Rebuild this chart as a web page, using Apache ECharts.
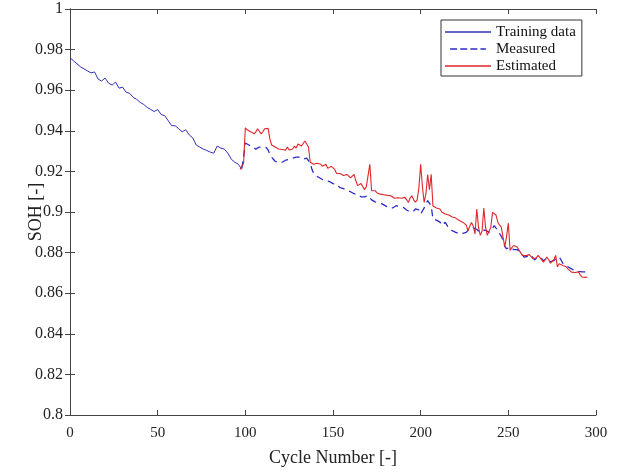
<!DOCTYPE html>
<html>
<head>
<meta charset="utf-8">
<script src="https://cdn.jsdelivr.net/npm/echarts@6/dist/echarts.min.js"></script>
<style>
  html, body { margin: 0; padding: 0; background: #fff; }
  #chart { width: 618px; height: 472px; }
</style>
</head>
<body>
<div id="chart"></div>
<script>
// [cycle, SOH]
const trainingData = [
  [0,0.976],[2,0.9745],[4,0.973],[6,0.9715],[8,0.9705],[10,0.9695],[12,0.9685],[14,0.969],
  [16,0.9655],[18,0.9645],[20,0.966],[22,0.9635],[24,0.9625],[26,0.964],[28,0.961],[30,0.9615],
  [32,0.959],[34,0.9585],[36,0.9565],[38,0.9555],[40,0.954],[42,0.953],[44,0.9515],[46,0.9505],
  [48,0.9495],[50,0.9505],[52,0.948],[54,0.9475],[56,0.945],[58,0.9425],[60,0.9425],[62,0.941],
  [64,0.9395],[66,0.9405],[68,0.938],[70,0.9365],[72,0.933],[74,0.932],[76,0.931],[78,0.9303],
  [80,0.9295],[82,0.929],[84,0.9325],[86,0.9315],[88,0.931],[90,0.929],[92,0.926],[94,0.9245],
  [96,0.9235],[98,0.921]
];

const measuredData = [
  [98,0.9215],[99,0.927],[100,0.934],[101,0.9335],[102,0.933],[103,0.9325],[104,0.932],[105,0.9315],
  [106,0.931],[107,0.9315],[108,0.932],[109,0.9325],[110,0.932],[111,0.9318],[112,0.9317],[113,0.9305],
  [114,0.9284],[115,0.927],[116,0.926],[117,0.925],[118,0.9245],[119,0.9243],[120,0.9243],[121,0.9245],
  [122,0.925],[123,0.9255],[124,0.926],[125,0.926],[126,0.9262],[127,0.9265],[128,0.9267],[129,0.927],
  [130,0.9276],[131,0.927],[132,0.9265],[133,0.926],[134,0.9262],[135,0.9265],[136,0.9267],[137,0.924],
  [138,0.921],[139,0.919],[140,0.918],[141,0.9175],[142,0.917],[143,0.9165],[144,0.916],[145,0.9158],
  [146,0.9155],[147,0.9153],[148,0.915],[149,0.9145],[150,0.914],[151,0.9138],[152,0.9137],[153,0.913],
  [154,0.912],[155,0.9118],[156,0.9115],[157,0.9112],[158,0.9108],[159,0.9105],[160,0.91],[161,0.9095],
  [162,0.909],[163,0.9088],[164,0.9085],[165,0.908],[166,0.9075],[167,0.9071],[168,0.9075],[169,0.9078],
  [170,0.908],[171,0.907],[172,0.906],[173,0.9055],[174,0.905],[175,0.9047],[176,0.9045],[177,0.9042],
  [178,0.904],[179,0.9039],[180,0.903],[181,0.9025],[182,0.902],[183,0.9015],[184,0.902],[185,0.9028],
  [186,0.9031],[187,0.903],[188,0.9027],[189,0.9025],[190,0.9023],[191,0.902],[192,0.901],[193,0.9005],
  [194,0.9],[195,0.8998],[196,0.9005],[197,0.9015],[198,0.9023],[199,0.901],[200,0.899],[201,0.9005],
  [202,0.902],[203,0.904],[204,0.9056],[205,0.905],[206,0.9031],[207,0.8965],[208,0.8958],[209,0.896],
  [210,0.8966],[211,0.895],[212,0.8934],[213,0.894],[214,0.8949],[215,0.8935],[216,0.892],[217,0.8912],
  [218,0.8908],[219,0.8905],[220,0.89],[221,0.8895],[222,0.8892],[223,0.8892],[224,0.8895],[225,0.8898],
  [226,0.89],[227,0.8902],[228,0.8917],[229,0.892],[230,0.8922],[231,0.8925],[232,0.8915],[233,0.8905],
  [234,0.89],[235,0.891],[236,0.8917],[237,0.891],[238,0.8905],[239,0.89],[240,0.8905],[241,0.892],
  [242,0.8933],[243,0.892],[244,0.8908],[245,0.8905],[246,0.888],[247,0.886],[248,0.883],[249,0.8819],
  [250,0.8825],[251,0.8827],[252,0.882],[253,0.8815],[254,0.881],[255,0.8815],[256,0.882],[257,0.88],
  [258,0.879],[259,0.8778],[260,0.878],[261,0.8782],[262,0.879],[263,0.8788],[264,0.8775],[265,0.8765],
  [266,0.877],[267,0.878],[268,0.8778],[269,0.877],[270,0.876],[271,0.8765],[272,0.8772],[273,0.877],
  [274,0.8755],[275,0.875],[276,0.876],[277,0.877],[278,0.8775],[279,0.8778],[280,0.8765],[281,0.8748],
  [282,0.8745],[283,0.874],[284,0.873],[285,0.8725],[286,0.872],[287,0.8715],[288,0.8712],[289,0.871],
  [290,0.8708],[291,0.8706],[292,0.8705],[293,0.8704],[294,0.8705],[295,0.8705]
];

const estimatedData = [
  [97,0.921],[98,0.9205],[99,0.924],[100,0.9415],[101,0.9405],[102,0.94],[103,0.9395],[104,0.939],
  [105,0.9385],[106,0.9395],[107,0.941],[108,0.9405],[109,0.9385],[110,0.9395],[111,0.941],[112,0.9405],
  [113,0.9412],[114,0.936],[115,0.933],[116,0.9325],[117,0.932],[118,0.9315],[119,0.931],[120,0.9305],
  [121,0.9308],[122,0.93],[123,0.9305],[124,0.932],[125,0.9305],[126,0.93],[127,0.931],[128,0.9325],
  [129,0.9315],[130,0.9335],[131,0.934],[132,0.9325],[133,0.933],[134,0.935],[135,0.9355],[136,0.932],
  [137,0.9245],[138,0.924],[139,0.9235],[140,0.9232],[141,0.924],[142,0.9245],[143,0.9235],[144,0.9225],
  [145,0.922],[146,0.9235],[147,0.9215],[148,0.921],[149,0.9225],[150,0.923],[151,0.921],[152,0.919],
  [153,0.9185],[154,0.919],[155,0.9195],[156,0.918],[157,0.9175],[158,0.9185],[159,0.918],[160,0.9168],
  [161,0.9175],[162,0.9185],[163,0.9155],[164,0.913],[165,0.9135],[166,0.914],[167,0.9125],[168,0.911],
  [169,0.9125],[170,0.913],[171,0.9235],[172,0.9105],[173,0.911],[174,0.9105],[175,0.9095],[176,0.909],
  [177,0.9088],[178,0.909],[179,0.9085],[180,0.908],[181,0.9082],[182,0.9075],[183,0.908],[184,0.9071],
  [185,0.9068],[186,0.9065],[187,0.907],[188,0.9064],[189,0.9068],[190,0.907],[191,0.9072],[192,0.906],
  [193,0.9047],[194,0.907],[195,0.908],[196,0.906],[197,0.9048],[198,0.906],[199,0.912],[200,0.9235],
  [201,0.9125],[202,0.9047],[203,0.909],[204,0.9185],[205,0.911],[206,0.9186],[207,0.903],[208,0.9025],
  [209,0.902],[210,0.9015],[211,0.9015],[212,0.9],[213,0.8995],[214,0.899],[215,0.8995],[216,0.8985],
  [217,0.898],[218,0.8975],[219,0.8978],[220,0.897],[221,0.8965],[222,0.8958],[223,0.8955],[224,0.895],
  [225,0.8941],[226,0.8935],[227,0.8908],[228,0.893],[229,0.8949],[230,0.893],[231,0.8892],[232,0.9015],
  [233,0.8925],[234,0.8885],[235,0.8905],[236,0.902],[237,0.8925],[238,0.8885],[239,0.889],[240,0.8925],
  [241,0.8998],[242,0.8995],[243,0.8985],[244,0.895],[245,0.8935],[246,0.8925],[247,0.8875],[248,0.8828],
  [249,0.888],[250,0.8945],[251,0.881],[252,0.8825],[253,0.8835],[254,0.8832],[255,0.8828],[256,0.882],
  [257,0.88],[258,0.8786],[259,0.879],[260,0.8785],[261,0.8778],[262,0.879],[263,0.8785],[264,0.877],
  [265,0.8763],[266,0.8775],[267,0.8786],[268,0.878],[269,0.8765],[270,0.8753],[271,0.8765],[272,0.8778],
  [273,0.8765],[274,0.8748],[275,0.8745],[276,0.8765],[277,0.8786],[278,0.873],[279,0.8745],[280,0.8742],
  [281,0.8737],[282,0.8745],[283,0.873],[284,0.872],[285,0.8712],[286,0.8704],[287,0.8708],[288,0.8702],
  [289,0.8696],[290,0.8705],[291,0.869],[292,0.868],[293,0.8685],[294,0.8678],[295,0.868]
];

const seriesNames = ['Training data', 'Measured', 'Estimated'];
const xName = 'Cycle Number [-]';
const yName = 'SOH [-]';

const font = 'Liberation Serif';
const axisColor = '#444';
const colTrain = '#3030b8';
const colMeas = '#2b2bc8';
const colEst = '#e0262a';

// legend samples: a thin solid line and a dashed one
const solidIcon = 'path://M0,0h46v1.4h-46z';
const dashIcon = 'path://M0,0h9v1.8h-9z M13,0h9v1.8h-9z M26,0h9v1.8h-9z M39,0h7v1.8h-7z';

const chart = echarts.init(document.getElementById('chart'), null, { renderer: 'canvas' });

const tickInside = { show: true, inside: true, length: 5, lineStyle: { color: axisColor } };
const lineOn = { show: true, lineStyle: { color: axisColor, width: 1 } };

chart.setOption({
  animation: false,
  backgroundColor: '#fff',
  grid: { left: 70, right: 22, top: 9, bottom: 55 },
  legend: {
    orient: 'vertical',
    left: 441, top: 20,
    itemWidth: 46, itemHeight: 1.4, itemGap: 1,
    padding: [4, 6, 2, 4],
    backgroundColor: '#fff',
    borderColor: '#333', borderWidth: 1,
    textStyle: { fontFamily: font, fontSize: 15, color: '#111', lineHeight: 16 },
    data: [
      { name: seriesNames[0], icon: solidIcon, itemStyle: { color: colTrain, borderWidth: 0 } },
      { name: seriesNames[1], icon: dashIcon, itemStyle: { color: colMeas, borderWidth: 0 } },
      { name: seriesNames[2], icon: solidIcon, itemStyle: { color: colEst, borderWidth: 0 } }
    ]
  },
  xAxis: [{
    type: 'value', min: 0, max: 300, interval: 50,
    name: xName, nameLocation: 'middle', nameGap: 34, nameMoveOverlap: false,
    nameTextStyle: { fontFamily: font, fontSize: 18, color: '#222' },
    axisLine: lineOn, axisTick: tickInside,
    axisLabel: { fontFamily: font, fontSize: 15, color: '#222', margin: 11 },
    splitLine: { show: false }
  }, {
    type: 'value', min: 0, max: 300, interval: 50, position: 'top',
    axisLine: lineOn, axisTick: tickInside, axisLabel: { show: false }, splitLine: { show: false }
  }],
  yAxis: [{
    type: 'value', min: 0.8, max: 1, interval: 0.02,
    name: yName, nameLocation: 'middle', nameGap: 25, nameMoveOverlap: false,
    nameTextStyle: { fontFamily: font, fontSize: 18, color: '#222' },
    axisLine: lineOn, axisTick: tickInside,
    axisLabel: {
      fontFamily: font, fontSize: 16, color: '#222', margin: 7,
      formatter: v => String(Number(v.toFixed(2)))
    },
    splitLine: { show: false }
  }, {
    type: 'value', min: 0.8, max: 1, interval: 0.02, position: 'right',
    axisLine: lineOn, axisTick: tickInside, axisLabel: { show: false }, splitLine: { show: false }
  }],
  series: [{
    name: seriesNames[0], type: 'line', symbol: 'none', data: trainingData,
    lineStyle: { color: colTrain, width: 1 }, itemStyle: { color: colTrain }
  }, {
    name: seriesNames[1], type: 'line', symbol: 'none', data: measuredData,
    lineStyle: { color: colMeas, width: 1.3, type: [7, 5] }, itemStyle: { color: colMeas }
  }, {
    name: seriesNames[2], type: 'line', symbol: 'none', data: estimatedData,
    lineStyle: { color: colEst, width: 1.1 }, itemStyle: { color: colEst }
  }]
});
</script>
</body>
</html>
